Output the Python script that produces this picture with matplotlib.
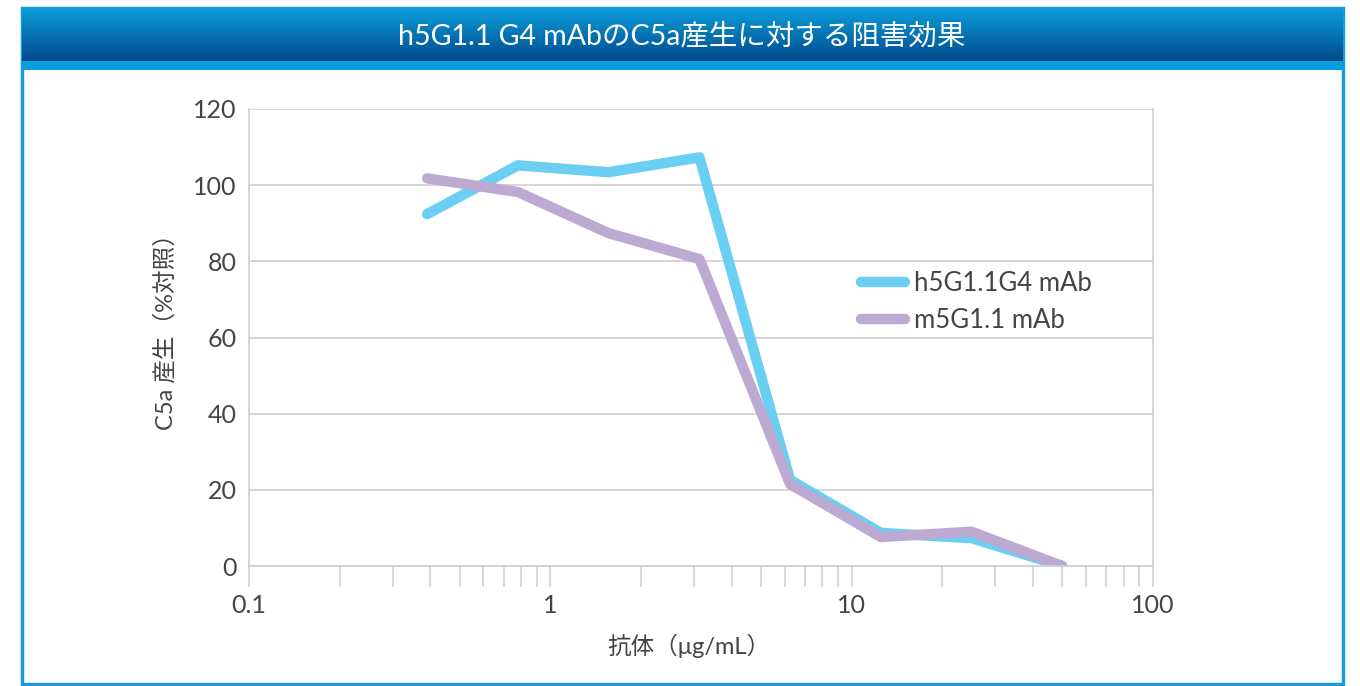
import numpy as np
import matplotlib.pyplot as plt
from matplotlib.patches import Rectangle

plt.rcParams["font.family"] = ["Lato", "Noto Sans CJK JP", "DejaVu Sans"]

# 抗体濃度 (μg/mL) と C5a 産生 (% 対照)
conc = [0.39, 0.78, 1.56, 3.125, 6.25, 12.5, 25, 50]
h5g11_g4 = [92.4, 105.2, 103.4, 107.3, 22.6, 8.7, 7.3, 0.0]
m5g11 = [101.8, 98.2, 87.4, 80.6, 21.5, 7.6, 9.0, 0.0]

series_names = ["h5G1.1G4 mAb", "m5G1.1 mAb"]
colors = ["#6bcff4", "#bcaad2"]

title = "h5G1.1 G4 mAbのC5a産生に対する阻害効果"
xlabel = "抗体（μg/mL）"
ylabel = "C5a 産生（%対照）"

W, H = 1360, 686
fig = plt.figure(figsize=(W / 100, H / 100), dpi=100)
text_c = "#444444"

# 外枠
frame = fig.add_axes([0, 0, 1, 1], zorder=0)
frame.set_xlim(0, W)
frame.set_ylim(H, 0)
frame.axis("off")
frame.add_patch(Rectangle((22, 8), 1321, 676, facecolor="white",
                          edgecolor="#1a9ad8", linewidth=2.5))
# タイトルバー(グラデーション)
grad = np.linspace(0, 1, 100).reshape(-1, 1)
top = np.array([0.05, 0.62, 0.86])
bot = np.array([0.0, 0.29, 0.55])
img = top + (bot - top) * grad[..., None]
frame.imshow(img, extent=(22, 1343, 61, 8), aspect="auto", zorder=1)
frame.add_patch(Rectangle((22, 61), 1321, 9, facecolor="#0a9fdc",
                          edgecolor="none", zorder=2))
frame.text(682, 36, title, color="white", fontsize=20.5, ha="center",
           va="center", zorder=3)

# グラフ本体
x0, x1, y0, y1 = 249, 1153, 109, 566
ax = fig.add_axes([x0 / W, 1 - y1 / H, (x1 - x0) / W, (y1 - y0) / H], zorder=2)
ax.set_facecolor("none")
for vals, name, c in zip([h5g11_g4, m5g11], series_names, colors):
    ax.plot(conc, vals, color=c, lw=7.5, solid_capstyle="round",
            solid_joinstyle="round", label=name)

ax.set_xscale("log")
ax.set_xlim(0.1, 100)
ax.set_ylim(0, 120)
ax.set_yticks(range(0, 121, 20))
ax.set_xticks([0.1, 1, 10, 100])
ax.set_xticklabels(["0.1", "1", "10", "100"])
ax.grid(axis="y", color="#cfcfcf", lw=1.2)
ax.set_axisbelow(True)
for s in ["left", "right", "bottom"]:
    ax.spines[s].set_color("#cfcfcf")
    ax.spines[s].set_linewidth(1.2)
ax.spines["top"].set_visible(False)
ax.tick_params(axis="y", length=0, pad=9, labelsize=18, labelcolor=text_c)
ax.tick_params(axis="x", which="both", length=15, width=1.2, color="#cfcfcf",
               labelsize=18, labelcolor=text_c, pad=5)
ax.tick_params(axis="x", which="minor", labelbottom=False)

ax.set_xlabel(xlabel, fontsize=17, color=text_c)
ax.set_ylabel(ylabel, fontsize=17, color=text_c)
ax.xaxis.set_label_coords(0.487, -0.148)
ax.yaxis.set_label_coords(-0.08, 0.525)

ax.legend(loc="center left", bbox_to_anchor=((838 - x0) / (x1 - x0), 1 - (302 - y0) / (y1 - y0)),
          frameon=False, handlelength=1.7, handletextpad=0.35,
          labelspacing=0.5, labelcolor=text_c, prop={"size": 18.5})

fig.savefig("out.png", dpi=100)
